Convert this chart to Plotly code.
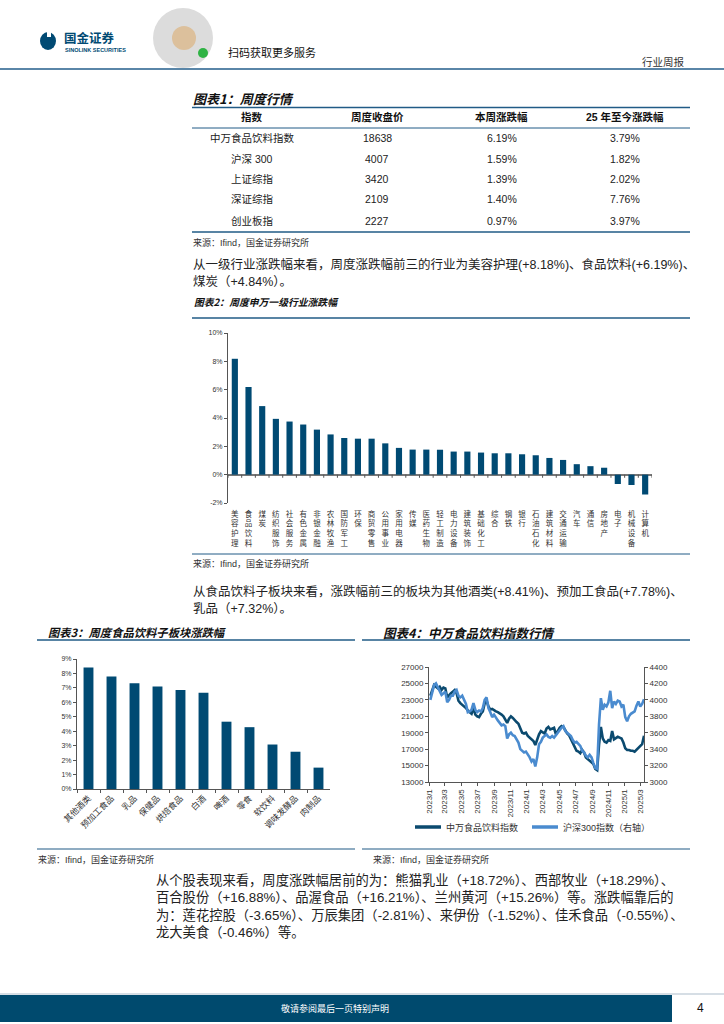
import plotly.graph_objects as go
import pandas as pd

W, H = 724, 1024
def X(px): return px / W
def Y(py): return 1 - py / H

CJK = "Noto Sans CJK SC"
MIX = "Liberation Sans, Noto Sans CJK SC"
NAVY = "#004a73"
DARKLINE = "#0b4a6f"
LIGHTLINE = "#4a8bcf"
RULE = "#215b86"
TXT = "#222222"

# ---------------- data ----------------
table_header = ["指数", "周度收盘价", "本周涨跌幅", "25 年至今涨跌幅"]
table_names = ["中万食品饮料指数", "沪深 300", "上证综指", "深证综指", "创业板指"]
table_close = ["18638", "4007", "3420", "2109", "2227"]
table_week = ["6.19%", "1.59%", "1.39%", "1.40%", "0.97%"]
table_ytd = ["3.79%", "1.82%", "2.02%", "7.76%", "3.97%"]

industries = ["美容护理", "食品饮料", "煤炭", "纺织服饰", "社会服务", "有色金属", "非银金融",
              "农林牧渔", "国防军工", "环保", "商贸零售", "公用事业", "家用电器", "传媒",
              "医药生物", "轻工制造", "电力设备", "建筑装饰", "基础化工", "综合", "钢铁",
              "银行", "石油石化", "建筑材料", "交通运输", "汽车", "通信", "房地产",
              "电子", "机械设备", "计算机"]
industry_chg = [8.18, 6.19, 4.84, 3.94, 3.75, 3.54, 3.18, 2.84, 2.59, 2.54, 2.54, 2.21,
                1.89, 1.77, 1.77, 1.76, 1.63, 1.63, 1.56, 1.51, 1.51, 1.44, 1.37, 1.18,
                1.04, 0.74, 0.60, 0.49, -0.66, -0.73, -1.40]

sub_sectors = ["其他酒类", "预加工食品", "乳品", "保健品", "烘焙食品", "白酒", "啤酒",
               "零食", "软饮料", "调味发酵品", "肉制品"]
sub_chg = [8.41, 7.78, 7.32, 7.10, 6.86, 6.66, 4.66, 4.28, 3.08, 2.58, 1.48]

week_dates = pd.date_range("2023-01-06", "2025-03-14", freq="W-FRI")
food_index = [
    23500, 24200, 24800, 24600,
    24400, 24600, 24200, 24500,
    24400, 23300, 23600, 23800, 24000,
    24200, 23800, 22900, 22600,
    22400, 22300, 22000, 21700,
    21500, 21300, 22000, 21200, 21000,
    20900, 21300, 21600, 22600,
    22900, 22200, 21800, 21900,
    21700, 21600, 21500, 21400, 21200,
    21000, 20600, 20200, 20700,
    21000, 20800, 20500, 20300,
    20100, 19600, 19000, 18900, 19000,
    18600, 18400, 18200, 18000,
    17500, 18300, 18800, 19200,
    19000, 18900, 19500, 19700, 19400,
    19500, 19600, 18800, 19300,
    19600, 19800, 19700, 19300, 18900,
    18700, 18200, 17600, 17200,
    16800, 16700, 16500, 16900,
    16600, 16000, 15800, 15700, 15400,
    15200, 14600, 14450, 17500,
    19700, 18300, 17900, 17800,
    18100, 18000, 19200, 18200, 18300,
    18500, 18400, 18300, 17800,
    17100, 16900, 16900, 16800, 16800,
    16700, 16900, 17200, 17300,
    17600, 18638,
]
csi300 = [
    4000, 4100, 4180, 4200,
    4150, 4120, 4060, 4080,
    4100, 3970, 4000, 4050, 4050,
    4100, 4120, 4050, 4030,
    4050, 3990, 3950, 3850,
    3860, 3880, 3960, 3880, 3850,
    3870, 3860, 3900, 4000,
    4030, 3900, 3850, 3790,
    3820, 3780, 3750, 3720, 3690,
    3700, 3680, 3530, 3580,
    3600, 3570, 3560, 3520,
    3480, 3400, 3380, 3360, 3370,
    3340, 3300, 3250, 3280,
    3190, 3300, 3460, 3490,
    3540, 3560, 3580, 3550, 3540,
    3560, 3540, 3570, 3600,
    3640, 3660, 3680, 3620, 3600,
    3580, 3560, 3510, 3480,
    3490, 3460, 3440, 3380,
    3360, 3320, 3300, 3330, 3300,
    3230, 3170, 3160, 3700,
    4020, 3880, 3940, 3920,
    3970, 4110, 3900, 3980, 3950,
    3990, 3980, 3920, 3940,
    3790, 3740, 3800, 3830, 3840,
    3860, 3930, 3980, 3920,
    3950, 4007,
]
month_ticks = pd.date_range("2023-01-01", "2025-03-01", freq="2MS")
month_labels = [f"{d.year}/{d.month}" for d in month_ticks]

para1 = ["从一级行业涨跌幅来看，周度涨跌幅前三的行业为美容护理(+8.18%)、食品饮料(+6.19%)、",
         "煤炭（+4.84%）。"]
para2 = ["从食品饮料子板块来看，涨跌幅前三的板块为其他酒类(+8.41%)、预加工食品(+7.78%)、",
         "乳品（+7.32%）。"]
para3 = ["从个股表现来看，周度涨跌幅居前的为：熊猫乳业（+18.72%）、西部牧业（+18.29%）、",
         "百合股份（+16.88%）、品渥食品（+16.21%）、兰州黄河（+15.26%）等。涨跌幅靠后的",
         "为：莲花控股（-3.65%）、万辰集团（-2.81%）、来伊份（-1.52%）、佳禾食品（-0.55%）、",
         "龙大美食（-0.46%）等。"]
source_text = "来源：Ifind，国金证券研究所"

# ---------------- figure ----------------
fig = go.Figure()

fig.add_trace(go.Bar(x=list(range(len(industries))), y=industry_chg, marker_color=NAVY,
                     marker_line_width=0, width=0.45, xaxis="x", yaxis="y"))
fig.add_trace(go.Bar(x=sub_sectors, y=sub_chg, marker_color=NAVY, marker_line_width=0,
                     width=0.43, xaxis="x2", yaxis="y2"))
fig.add_trace(go.Scatter(x=week_dates, y=food_index, mode="lines",
                         line=dict(color=DARKLINE, width=2.6), xaxis="x3", yaxis="y3"))
fig.add_trace(go.Scatter(x=week_dates, y=csi300, mode="lines",
                         line=dict(color=LIGHTLINE, width=2.6), xaxis="x3", yaxis="y4"))

axis_common = dict(showgrid=False, linecolor="#555555", linewidth=1, tickcolor="#555555",
                   ticklen=3, tickwidth=1, automargin=False)

y2_ticks = list(range(-2, 11, 2))
y3_ticks = list(range(0, 10))

fig.update_layout(
    width=W, height=H, margin=dict(l=0, r=0, t=0, b=0, pad=0, autoexpand=False),
    paper_bgcolor="white", plot_bgcolor="white", showlegend=False,
    xaxis=dict(domain=[X(228), X(652)], anchor="y", range=[-0.5, len(industries) - 0.5],
               tickvals=list(range(len(industries))),
               ticktext=["<br>".join(n) for n in industries],
               showline=False, ticks="", zeroline=False, showgrid=False, automargin=False,
               ticklabelstandoff=5,
               tickfont=dict(size=7.5, family=CJK, color="#333")),
    yaxis=dict(domain=[Y(503), Y(333)], anchor="x", range=[-2, 10],
               tickvals=y2_ticks, ticktext=[f"{v}%" for v in y2_ticks],
               showline=True, ticks="outside", zeroline=True, zerolinecolor="#777777",
               zerolinewidth=1.5, tickfont=dict(size=7, family="Liberation Sans", color="#333"),
               **axis_common),
    xaxis2=dict(domain=[X(77), X(330)], anchor="y2", type="category", tickangle=-45,
                showline=True, ticks="outside", tickson="boundaries",
                tickfont=dict(size=8.5, family=CJK, color="#333"), **axis_common),
    yaxis2=dict(domain=[Y(789), Y(659)], anchor="x2", range=[0, 9],
                tickvals=y3_ticks, ticktext=[f"{v}%" for v in y3_ticks],
                showline=True, ticks="outside", zeroline=False,
                tickfont=dict(size=7, family="Liberation Sans", color="#333"), **axis_common),
    xaxis3=dict(domain=[X(429), X(644)], anchor="y3", type="date",
                range=["2023-01-01", "2025-03-14"], tickvals=list(month_ticks),
                ticktext=month_labels, tickangle=-90, showline=True, ticks="outside",
                tickfont=dict(size=8, family="Liberation Sans", color="#333"), **axis_common),
    yaxis3=dict(domain=[Y(782), Y(667)], anchor="x3", range=[13000, 27000], tick0=13000,
                dtick=2000, tickformat="d", showline=True, ticks="outside", zeroline=False,
                tickfont=dict(size=8, family="Liberation Sans", color="#333"), **axis_common),
    yaxis4=dict(overlaying="y3", side="right", anchor="x3", range=[3000, 4400], tick0=3000,
                dtick=200, tickformat="d", showline=True, ticks="outside", zeroline=False,
                tickfont=dict(size=8, family="Liberation Sans", color="#333"), **axis_common),
)

# tick marks on the zero line of chart 2 (category boundaries)
for i in range(len(industries) + 1):
    fig.add_shape(type="line", xref="x", yref="y", x0=i - 0.5, x1=i - 0.5, y0=0, y1=-0.22,
                  line=dict(color="#555555", width=1))


def txt(x, y, s, size=12, color=TXT, bold=False, italic=False, anchor="left", family=MIX):
    if bold:
        s = f"<b>{s}</b>"
    if italic:
        s = f"<i>{s}</i>"
    fig.add_annotation(x=X(x), y=Y(y), xref="paper", yref="paper", text=s, showarrow=False,
                       xanchor=anchor, yanchor="middle", borderpad=0,
                       font=dict(size=size, color=color, family=family))


def hline(x0, x1, y, color=RULE, width=1.2):
    fig.add_shape(type="line", xref="paper", yref="paper", x0=X(x0), x1=X(x1), y0=Y(y), y1=Y(y),
                  line=dict(color=color, width=width))


def rect(x0, y0, x1, y1, fill, kind="rect"):
    fig.add_shape(type=kind, xref="paper", yref="paper", x0=X(x0), x1=X(x1), y0=Y(y1), y1=Y(y0),
                  fillcolor=fill, line=dict(width=0), layer="above")

# ---------------- header ----------------
rect(40, 32, 56, 50, NAVY, "circle")
rect(47, 31, 51, 37, "white")
txt(63, 37, "国金证券", size=12.5, color=NAVY, bold=True, family=CJK)
txt(64, 50, "SINOLINK SECURITIES", size=5.5, color=NAVY, bold=True, family="Liberation Sans")
rect(153, 8, 213, 68, "#dcdcdc", "circle")
rect(172, 26, 196, 50, "#dcc09c", "circle")
rect(198, 48, 208, 58, "#2fb344", "circle")
txt(227, 52, "扫码获取更多服务", size=11, color="#111", family=CJK)
txt(686, 61, "行业周报", size=10.5, color="#333", anchor="right", family=CJK)
hline(0, 724, 69, color="#5a86a8", width=2.2)

# ---------------- table ----------------
txt(192, 98, "图表1：周度行情", size=13, color="#111", bold=True, italic=True, family=CJK)
hline(192, 690, 107.5, width=1.5)
hline(192, 690, 128, width=1)
hline(192, 690, 232, width=1.5)
col_x = [252, 377, 502, 625]
for cx, h in zip(col_x, table_header):
    txt(cx, 117, h, size=10.5, color="#111", bold=True, anchor="center")
row_y = [138, 159, 179, 199, 221]
for ry, a, b, c, d in zip(row_y, table_names, table_close, table_week, table_ytd):
    for cx, v in zip(col_x, [a, b, c, d]):
        txt(cx, ry, v, size=10.5, color="#222", anchor="center")
txt(192, 242, source_text, size=9, color="#333")

# ---------------- paragraph 1 + chart 2 ----------------
txt(192, 264, para1[0], size=12.5)
txt(192, 282, para1[1], size=12.5)
txt(193, 302, "图表2：周度申万一级行业涨跌幅", size=9.8, color="#111", bold=True, italic=True, family=CJK)
hline(192, 690, 318, width=1.5)
hline(192, 690, 554, width=1)
txt(192, 563, source_text, size=9, color="#333")

# ---------------- paragraph 2 ----------------
txt(192, 591, para2[0], size=12.5)
txt(192, 609, para2[1], size=12.5)

# ---------------- chart 3 / chart 4 frames ----------------
txt(47, 632, "图表3：周度食品饮料子板块涨跌幅", size=11.3, color="#111", bold=True, italic=True, family=CJK)
txt(382, 632, "图表4：中万食品饮料指数行情", size=12.5, color="#111", bold=True, italic=True, family=CJK)
hline(37, 355, 640, width=1.5)
hline(362, 690, 640, width=1.5)
hline(37, 355, 849, width=1.2)
hline(362, 690, 849, width=1.2)
txt(37, 859, source_text, size=9, color="#333")
txt(372, 859, source_text, size=9, color="#333")

# chart 4 legend
fig.add_shape(type="line", xref="paper", yref="paper", x0=X(415), x1=X(441), y0=Y(827), y1=Y(827),
              line=dict(color=DARKLINE, width=3.5))
txt(445, 827, "中万食品饮料指数", size=9, color="#333", family=CJK)
fig.add_shape(type="line", xref="paper", yref="paper", x0=X(532), x1=X(558), y0=Y(827), y1=Y(827),
              line=dict(color=LIGHTLINE, width=3.5))
txt(562, 827, "沪深300指数（右轴）", size=9, color="#333")

# ---------------- paragraph 3 ----------------
for i, line in enumerate(para3):
    txt(155, 880 + i * 17.3, line, size=13.3)

# ---------------- footer ----------------
hline(0, 724, 994, color="#c9d3dc", width=1.5)
rect(0, 995, 672, 1022, "#004a6e")
txt(335, 1008, "敬请参阅最后一页特别声明", size=9, color="white", anchor="center", family=CJK)
txt(700, 1008, "4", size=12, color="#111", anchor="center", family="Liberation Sans")

fig.write_html("out.html", config={"displayModeBar": False},
               post_script="document.body.style.margin='0px';")
